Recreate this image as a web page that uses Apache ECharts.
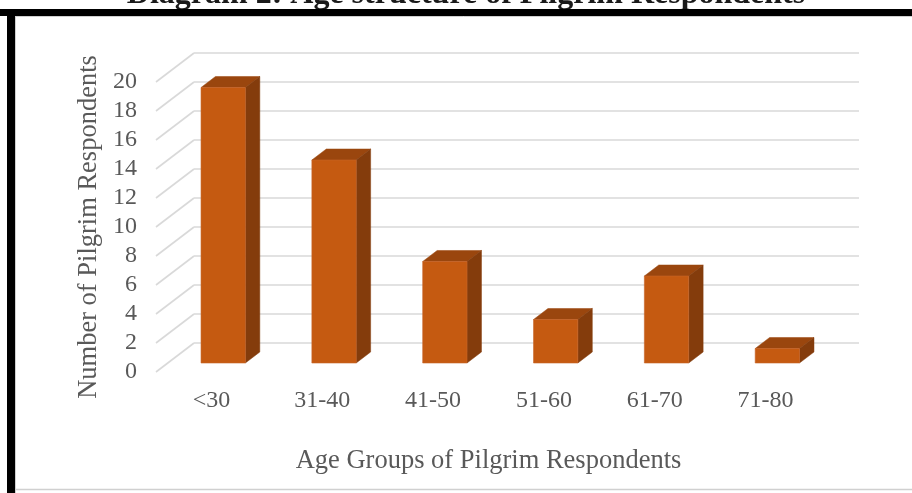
<!DOCTYPE html>
<html>
<head>
<meta charset="utf-8">
<title>Age structure of Pilgrim Respondents</title>
<script src="https://cdn.jsdelivr.net/npm/echarts@6/dist/echarts.min.js"></script>
<style>
  html, body { margin: 0; padding: 0; background: #ffffff; }
  #chart { width: 912px; height: 493px; }
</style>
</head>
<body>
<div id="chart"></div>
<script>
// Age groups and respondent counts
const categories = ['<30', '31-40', '41-50', '51-60', '61-70', '71-80'];
const respondents = [19, 14, 7, 3, 6, 1];
const yMin = 0;
const yMax = 20;
const yInterval = 2;
const titleText = 'Diagram 2: Age structure of Pilgrim Respondents';
const xAxisName = 'Age Groups of Pilgrim Respondents';
const yAxisName = 'Number of Pilgrim Respondents';

// gridline values on the back wall (one per axis tick)
const gridValues = [];
for (let v = yMin; v <= yMax; v += yInterval) gridValues.push(v);

// 3D projection: vector from the back wall to the front plane
const DEPTH_X = -38;
const DEPTH_Y = 29;
// bar occupies this slice of the depth (0 = back wall, 1 = front plane)
const BAR_BACK = 0.31;
const BAR_FRONT = 0.69;
const BAR_WIDTH = 0.4; // fraction of a category band

const FONT = '"Liberation Serif", "Times New Roman", serif';
const TEXT = '#595959';
const GRID = '#d9d9d9';

const chart = echarts.init(document.getElementById('chart'), null, { renderer: 'canvas' });

function renderBar(params, api) {
  const i = api.value(0);
  const v = api.value(1);
  const base = api.coord([i, 0]);
  const topPt = api.coord([i, v]);
  const band = api.size([1, 0])[0];
  const w = band * BAR_WIDTH;
  const cx = base[0];
  const fx = cx + DEPTH_X * BAR_FRONT, fy = DEPTH_Y * BAR_FRONT;
  const bx = cx + DEPTH_X * BAR_BACK, by = DEPTH_Y * BAR_BACK;
  const yTop = topPt[1], yBot = base[1];
  const fl = fx - w / 2, fr = fx + w / 2;
  const bl = bx - w / 2, br = bx + w / 2;
  return {
    type: 'group',
    children: [
      { // top face
        type: 'polygon',
        shape: { points: [[fl, yTop + fy], [fr, yTop + fy], [br, yTop + by], [bl, yTop + by]] },
        style: { fill: '#9a460e', stroke: '#9a460e', lineWidth: 0.5 }
      },
      { // side face
        type: 'polygon',
        shape: { points: [[fr, yTop + fy], [fr, yBot + fy], [br, yBot + by], [br, yTop + by]] },
        style: { fill: '#843c0c', stroke: '#843c0c', lineWidth: 0.5 }
      },
      { // front face
        type: 'rect',
        shape: { x: fl, y: yTop + fy, width: w, height: yBot - yTop },
        style: { fill: '#c55a11', stroke: '#c8652a', lineWidth: 0.6 }
      }
    ]
  };
}

function renderFloorLine(params, api) {
  const v = api.value(0);
  const p = api.coord([0, v]);
  const x0 = params.coordSys.x;
  return {
    type: 'line',
    shape: { x1: x0, y1: p[1], x2: x0 + DEPTH_X, y2: p[1] + DEPTH_Y },
    style: { stroke: GRID, lineWidth: 1.6 }
  };
}

const option = {
  backgroundColor: '#ffffff',
  animation: false,
  grid: [
    // back wall
    { left: 194, right: 53, top: 53, bottom: 150 },
    // front plane
    { left: 156, right: 91, top: 82, bottom: 121 }
  ],
  xAxis: [
    {
      gridIndex: 0, type: 'category', data: categories,
      axisLine: { show: false }, axisTick: { show: false }, axisLabel: { show: false }
    },
    {
      gridIndex: 1, type: 'category', data: categories,
      axisLine: { show: false }, axisTick: { show: false },
      axisLabel: { color: TEXT, fontFamily: FONT, fontSize: 24, margin: 17 },
      name: xAxisName, nameLocation: 'middle', nameGap: 76,
      nameTextStyle: { color: TEXT, fontFamily: FONT, fontSize: 26.5 }
    }
  ],
  yAxis: [
    {
      gridIndex: 0, type: 'value', min: yMin, max: yMax, interval: yInterval,
      axisLine: { show: false }, axisTick: { show: false }, axisLabel: { show: false },
      splitLine: { show: true, lineStyle: { color: GRID, width: 1.6 } }
    },
    {
      gridIndex: 1, type: 'value', min: yMin, max: yMax, interval: yInterval,
      axisLine: { show: false }, axisTick: { show: false }, splitLine: { show: false },
      axisLabel: { color: TEXT, fontFamily: FONT, fontSize: 24, margin: 19 },
      name: yAxisName, nameLocation: 'middle', nameGap: 53,
      nameTextStyle: { color: TEXT, fontFamily: FONT, fontSize: 26.5 }
    }
  ],
  series: [
    {
      type: 'custom', xAxisIndex: 0, yAxisIndex: 0,
      data: gridValues.map(v => [v]),
      encode: { y: 0 },
      renderItem: renderFloorLine, silent: true, z: 1
    },
    {
      type: 'custom', xAxisIndex: 0, yAxisIndex: 0,
      data: respondents.map((v, i) => [i, v]),
      encode: { x: 0, y: 1 },
      renderItem: renderBar, z: 3
    }
  ],
  graphic: [
    { // heading, cut off by the frame above it
      type: 'text', x: 466, y: 11, z: 10,
      style: { text: titleText, fill: '#1a1a1a', font: 'bold 32px ' + FONT, textAlign: 'center', textVerticalAlign: 'bottom' }
    },
    { type: 'rect', shape: { x: 0, y: 9, width: 912, height: 7 }, style: { fill: '#000' }, z: 20 },
    { type: 'rect', shape: { x: 7, y: 9, width: 8, height: 484 }, style: { fill: '#000' }, z: 20 },
    { type: 'line', shape: { x1: 15, y1: 16.5, x2: 912, y2: 16.5 }, style: { stroke: '#d0d0d0', lineWidth: 1 }, z: 19 },
    { type: 'line', shape: { x1: 15.5, y1: 16, x2: 15.5, y2: 493 }, style: { stroke: '#d0d0d0', lineWidth: 1 }, z: 19 },
    { type: 'line', shape: { x1: 15, y1: 489.5, x2: 912, y2: 489.5 }, style: { stroke: '#d0d0d0', lineWidth: 1.5 }, z: 19 }
  ]
};

chart.setOption(option);
</script>
</body>
</html>
